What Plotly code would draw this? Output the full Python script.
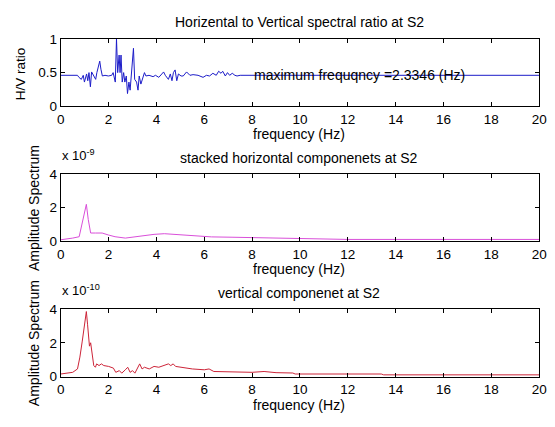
import plotly.graph_objects as go

# ---------------- data ----------------
hv_freq = [0, 0.70, 0.76, 0.86, 0.94, 0.99, 1.08, 1.13, 1.18, 1.24, 1.29, 1.38, 1.46, 1.51,
           1.59, 1.63, 1.68, 1.74, 1.85, 1.99, 2.13, 2.19, 2.28, 2.33, 2.38, 2.44, 2.48, 2.52,
           2.57, 2.63, 2.68, 2.74, 2.79, 2.85, 2.90, 2.98, 3.04, 3.09, 3.17, 3.23, 3.28, 3.35,
           3.42, 3.50, 3.56, 3.69, 3.86, 3.96, 4.10, 4.24, 4.30, 4.37, 4.50, 4.58, 4.65, 4.71,
           4.78, 4.85, 4.92, 5.03, 5.12, 5.26, 5.40, 5.53, 5.74, 5.95, 6.09, 6.22, 6.36, 6.50,
           6.60, 6.70, 6.77, 6.88, 6.97, 7.06, 7.17, 7.28, 7.37, 7.50, 8.0, 20.0]
hv_ratio = [0.46, 0.46, 0.43, 0.40, 0.46, 0.36, 0.48, 0.38, 0.50, 0.29, 0.51, 0.45, 0.40, 0.50,
            0.60, 0.67, 0.55, 0.45, 0.46, 0.45, 0.46, 0.50, 0.36, 1.00, 0.50, 0.76, 0.50, 0.76,
            0.36, 0.50, 0.36, 0.45, 0.19, 0.36, 0.24, 0.69, 0.86, 0.40, 0.36, 0.24, 0.45, 0.33,
            0.40, 0.50, 0.45, 0.46, 0.44, 0.46, 0.43, 0.49, 0.51, 0.46, 0.40, 0.48, 0.38, 0.50,
            0.54, 0.38, 0.48, 0.45, 0.45, 0.51, 0.46, 0.47, 0.46, 0.43, 0.46, 0.45, 0.49, 0.46,
            0.52, 0.49, 0.52, 0.45, 0.50, 0.46, 0.49, 0.46, 0.45, 0.46, 0.46, 0.46]

# stacked horizontal components (units of 1e-9)
h_freq = [0, 0.3, 0.5, 0.77, 0.9, 1.0, 1.07, 1.15, 1.25, 1.45, 1.73, 2.0, 2.27, 2.7, 3.1,
          3.5, 3.9, 4.33, 4.74, 5.3, 5.8, 6.3, 7.2, 8.0, 9.0, 10.2, 12.0, 20.0]
h_amp = [0.1, 0.15, 0.2, 0.28, 1.1, 1.8, 2.2, 1.3, 0.5, 0.5, 0.5, 0.38, 0.28, 0.2, 0.28,
         0.34, 0.42, 0.46, 0.42, 0.34, 0.28, 0.27, 0.25, 0.23, 0.2, 0.15, 0.12, 0.12]

# vertical component (units of 1e-10)
v_freq = [0, 0.5, 0.7, 0.8, 0.9, 1.0, 1.07, 1.12, 1.2, 1.25, 1.3, 1.38, 1.45, 1.5, 1.6, 1.7,
          1.8, 2.0, 2.2, 2.3, 2.45, 2.55, 2.7, 2.8, 2.9, 3.0, 3.1, 3.2, 3.3, 3.4, 3.5, 3.7,
          3.9, 4.1, 4.3, 4.5, 4.6, 4.7, 4.8, 5.0, 5.5, 6.0, 6.2, 6.4, 7.0, 8.0, 8.5, 9.0,
          9.7, 9.8, 13.4, 13.5, 20.0]
v_amp = [0.15, 0.25, 0.45, 1.15, 2.1, 3.1, 3.85, 3.1, 1.8, 2.0, 1.5, 0.65, 0.55, 0.75, 0.65,
         0.75, 0.65, 0.6, 0.5, 0.25, 0.35, 0.2, 0.4, 0.55, 0.25, 0.35, 0.2, 0.45, 0.75, 0.45,
         0.55, 0.45, 0.6, 0.55, 0.65, 0.75, 0.65, 0.75, 0.6, 0.55, 0.45, 0.4, 0.45, 0.3, 0.28,
         0.25, 0.3, 0.23, 0.21, 0.15, 0.15, 0.1, 0.1]

x_ticks = [0, 2, 4, 6, 8, 10, 12, 14, 16, 18, 20]

titles = ["Horizental to Vertical spectral ratio at S2",
          "stacked horizontal componenets at S2",
          "vertical componenet at S2"]
peak_text = "maximum frequqncy =2.3346 (Hz)"

FONT = "Liberation Sans, Arial, sans-serif"

fig = go.Figure()
fig.add_trace(go.Scatter(x=hv_freq, y=hv_ratio, mode="lines",
                         line=dict(color="#1c1cc8", width=1), xaxis="x", yaxis="y"))
fig.add_trace(go.Scatter(x=h_freq, y=h_amp, mode="lines",
                         line=dict(color="#d94fd9", width=1), xaxis="x2", yaxis="y2"))
fig.add_trace(go.Scatter(x=v_freq, y=v_amp, mode="lines",
                         line=dict(color="#cc2438", width=1), xaxis="x3", yaxis="y3"))

W, H = 555, 427
xd = [58 / W, 547 / W]
ydoms = [(33, 103), (173, 243), (313, 383)]

axcommon = dict(showline=True, linecolor="black", linewidth=1, mirror="ticks",
                ticks="inside", ticklen=4, tickcolor="black", showgrid=False,
                zeroline=False, tickfont=dict(family=FONT, size=13.5, color="black"))

layout = dict(width=W, height=H, margin=dict(l=0, r=0, t=0, b=0),
              paper_bgcolor="white", plot_bgcolor="white", showlegend=False,
              font=dict(family=FONT, color="black"))
ann = []
for i, (top, bot) in enumerate(ydoms):
    sfx = "" if i == 0 else str(i + 1)
    layout["xaxis" + sfx] = dict(axcommon, domain=xd, range=[0, 20], tickvals=x_ticks,
                                 anchor="y" + sfx)
    if i == 0:
        yv, yr = [0, 0.5, 1], [0, 1]
    else:
        yv, yr = [0, 2, 4], [0, 4]
    layout["yaxis" + sfx] = dict(axcommon, domain=[1 - bot / H, 1 - top / H], range=yr,
                                 tickvals=yv, anchor="x" + sfx)
    # title
    ann.append(dict(text=titles[i], x=302 / W, y=1 - (top - 17) / H, xref="paper",
                    yref="paper", showarrow=False, xanchor="center", yanchor="middle",
                    font=dict(family=FONT, size=14)))
    # x label
    ann.append(dict(text="frequency (Hz)", x=302 / W, y=1 - (bot + 29) / H, xref="paper",
                    yref="paper", showarrow=False, xanchor="center", yanchor="middle",
                    font=dict(family=FONT, size=14)))

ann.append(dict(text="H/V ratio", x=17 / W, y=1 - 69 / H, xref="paper", yref="paper",
                showarrow=False, textangle=-90, xanchor="center", yanchor="middle",
                font=dict(family=FONT, size=13.5)))
for i in (1, 2):
    top, bot = ydoms[i]
    ann.append(dict(text="Amplitude Spectrum", x=30 / W, y=1 - (top + bot) / 2 / H,
                    xref="paper", yref="paper", showarrow=False, textangle=-90,
                    xanchor="center", yanchor="middle", font=dict(family=FONT, size=14)))
ann.append(dict(text="x 10<sup>-9</sup>", x=57 / W, y=1 - 164 / H, xref="paper", yref="paper",
                showarrow=False, xanchor="left", yanchor="bottom",
                font=dict(family=FONT, size=13)))
ann.append(dict(text="x 10<sup>-10</sup>", x=57 / W, y=1 - 304 / H, xref="paper", yref="paper",
                showarrow=False, xanchor="left", yanchor="bottom",
                font=dict(family=FONT, size=13)))
ann.append(dict(text=peak_text, x=8, y=0.46, xref="x", yref="y", showarrow=False,
                xanchor="left", yanchor="middle", font=dict(family=FONT, size=14)))
layout["annotations"] = ann
fig.update_layout(**layout)
fig.write_html("out.html")
